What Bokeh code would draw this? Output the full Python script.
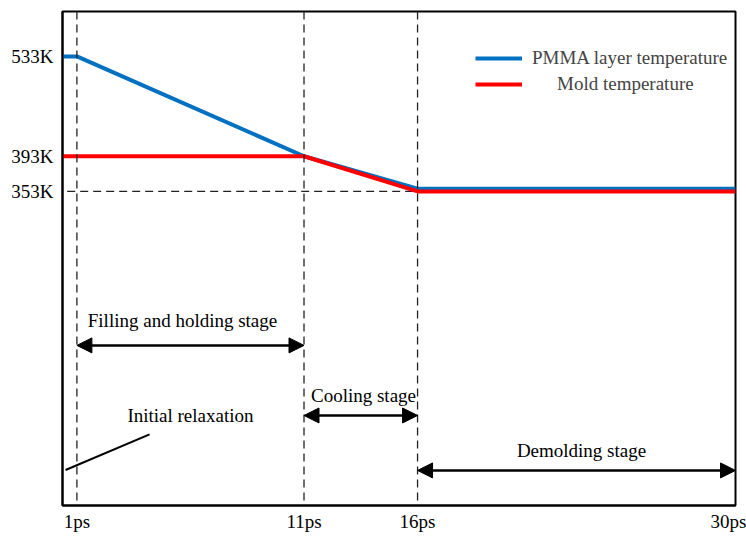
from bokeh.plotting import figure
from bokeh.models import Span, Arrow, NormalHead, Label, FixedTicker, Legend, LegendItem
from bokeh.embed import file_html
from bokeh.resources import INLINE

# ---- data ----
time_ticks = [1, 11, 16, 30]
time_labels = ["1ps", "11ps", "16ps", "30ps"]
temp_ticks = [353, 393, 533]
temp_labels = ["353K", "393K", "533K"]

pmma_t = [0, 1, 11, 16, 30]
pmma_T = [533, 533, 393, 356, 356]
mold_t = [0, 11, 16, 30]
mold_T = [393, 393, 353, 353]

stages = ["Filling and holding stage", "Cooling stage", "Demolding stage"]
stage_start = [1, 11, 16]
stage_end = [11, 16, 30]

FONT = "Liberation Serif"
FS = "19px"

p = figure(width=746, height=537, x_range=(0.366, 30), y_range=(135.4, 611.3),
           y_axis_type="log", output_backend="svg", toolbar_location=None,
           min_border_left=62, min_border_right=11, min_border_top=11, min_border_bottom=32)

p.xgrid.visible = False
p.ygrid.visible = False
p.outline_line_color = "black"
p.outline_line_width = 2

for ax in (p.xaxis[0], p.yaxis[0]):
    ax.axis_line_width = 2
    ax.axis_line_color = "black"
    ax.major_tick_line_color = None
    ax.minor_tick_line_color = None
    ax.major_tick_out = 0
    ax.major_tick_in = 0
    ax.major_label_text_font = FONT
    ax.major_label_text_font_size = FS
    ax.major_label_text_color = "black"

p.xaxis.ticker = FixedTicker(ticks=time_ticks)
p.xaxis.major_label_overrides = {t: l for t, l in zip(time_ticks, time_labels)}
p.xaxis.major_label_standoff = 5
p.yaxis.ticker = FixedTicker(ticks=temp_ticks)
p.yaxis.major_label_overrides = {t: l for t, l in zip(temp_ticks, temp_labels)}
p.yaxis.major_label_standoff = 9

# dashed guides
for t in time_ticks[:3]:
    p.add_layout(Span(location=t, dimension="height", line_dash="8 5",
                      line_color="#222222", line_width=1.3))
p.segment(x0=[0], y0=[temp_ticks[0]], x1=[time_ticks[2]], y1=[temp_ticks[0]],
          line_dash="8 5", line_color="#222222", line_width=1.3)

blue = p.line(pmma_t, pmma_T, line_color="#0070C0", line_width=4)
red = p.line(mold_t, mold_T, line_color="#FF0000", line_width=4)

common = dict(border_line_color=None, background_fill_alpha=0, padding=0, margin=0,
              glyph_width=47, glyph_height=20, label_height=20,
              label_text_font=FONT, label_text_font_size=FS)
p.add_layout(Legend(items=[LegendItem(label="PMMA layer temperature", renderers=[blue])],
                    location=(413, 436), label_standoff=10, **common))
p.add_layout(Legend(items=[LegendItem(label="Mold temperature", renderers=[red])],
                    location=(413, 410), label_standoff=35, **common))

# stage arrows
arrow_y = [220.7, 178.2, 150.7]
text_pos = [(5.65, 238), (13.62, 189.4), (23.22, 160.2)]
for name, s, e, ay, (tx, ty) in zip(stages, stage_start, stage_end, arrow_y, text_pos):
    p.add_layout(Arrow(start=NormalHead(size=15, fill_color="black", line_color="black"),
                       end=NormalHead(size=15, fill_color="black", line_color="black"),
                       x_start=s, x_end=e, y_start=ay, y_end=ay,
                       line_width=2.5, line_color="black"))
    p.add_layout(Label(x=tx, y=ty, text=name, text_align="center", text_baseline="middle",
                       text_font=FONT, text_font_size=FS, text_color="black"))

# initial relaxation pointer
p.line([0.5, 4.2], [150.9, 168.2], line_color="black", line_width=2)
p.add_layout(Label(x=6.0, y=178.2, text="Initial relaxation", text_align="center",
                   text_baseline="middle", text_font=FONT, text_font_size=FS, text_color="black"))

open("out.html", "w").write(file_html(p, INLINE))
